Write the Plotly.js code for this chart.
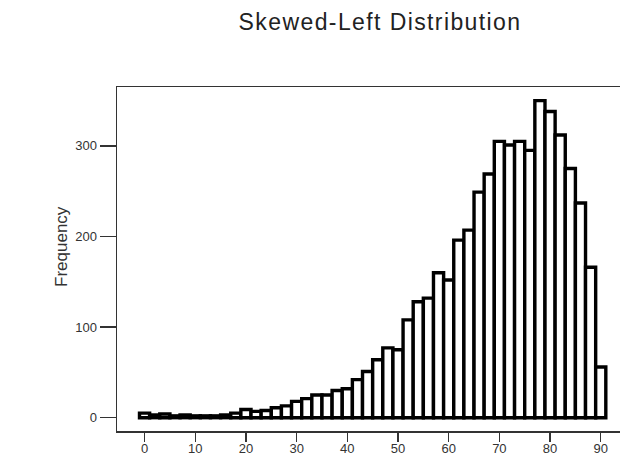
<!DOCTYPE html>
<html>
<head>
<meta charset="utf-8">
<script src="https://cdn.plot.ly/plotly-3.0.1.min.js"></script>
<style>
html,body{margin:0;padding:0;background:#fff;}
#chart{width:620px;height:468px;}
#chart .gtitle{letter-spacing:1.4px;}
</style>
</head>
<body>
<div id="chart"></div>
<script>
// Bin centres (width 2) and their frequencies
var binCenters = [0,2,4,6,8,10,12,14,16,18,20,22,24,26,28,30,32,34,36,38,40,42,44,46,48,50,52,54,56,58,60,62,64,66,68,70,72,74,76,78,80,82,84,86,88,90];
var frequencies = [5,3,4,2,3,2,2,2,3,5,9,7,8,11,13,18,21,25,25,30,32,42,51,64,77,75,108,128,132,160,152,196,207,249,269,305,301,305,295,350,338,312,275,237,166,56];
var xTickVals = [0,10,20,30,40,50,60,70,80,90];
var yTickVals = [0,100,200,300];
var binWidth = 2;

var trace = {
  type: 'bar',
  x: binCenters,
  y: frequencies,
  width: binCenters.map(function(){return binWidth;}),
  marker: {color: '#ffffff', line: {color: '#000000', width: 3.4}},
  hoverinfo: 'x+y'
};

var layout = {
  width: 620, height: 468,
  margin: {l: 117, r: 0, t: 87, b: 37, pad: 0},
  paper_bgcolor: '#ffffff', plot_bgcolor: '#ffffff',
  showlegend: false,
  font: {family: '"Liberation Sans", Arial, sans-serif', color: '#333333', size: 12},
  title: {
    text: 'Skewed-Left Distribution',
    font: {family: '"Liberation Sans", Arial, sans-serif', size: 23, color: '#222222'},
    xref: 'container', yref: 'container', x: 0.613, y: 0.953, xanchor: 'center', yanchor: 'middle'
  },
  xaxis: {
    range: [-5.44, 93.8],
    tickvals: xTickVals,
    ticks: 'outside', ticklen: 9, tickwidth: 1.5, tickcolor: '#333333',
    ticklabelstandoff: -4,
    showline: true, linecolor: '#333333', linewidth: 1.5, mirror: true,
    showgrid: false, zeroline: false,
    tickfont: {size: 13, color: '#333333'}
  },
  yaxis: {
    range: [-14.7, 365],
    tickvals: yTickVals,
    ticks: 'outside', ticklen: 16, tickwidth: 1.5, tickcolor: '#333333',
    showline: true, linecolor: '#333333', linewidth: 1.5, mirror: false,
    showgrid: false, zeroline: false,
    tickfont: {size: 13, color: '#333333'}
  },
  annotations: [{
    text: 'Frequency', textangle: -90,
    xref: 'paper', yref: 'paper', x: 0, y: 0.535,
    xanchor: 'center', yanchor: 'middle', xshift: -55,
    showarrow: false,
    font: {family: '"Liberation Sans", Arial, sans-serif', size: 17, color: '#333333'}
  }],
  bargap: 0
};

Plotly.newPlot('chart', [trace], layout, {displayModeBar: false, staticPlot: true});
</script>
</body>
</html>
